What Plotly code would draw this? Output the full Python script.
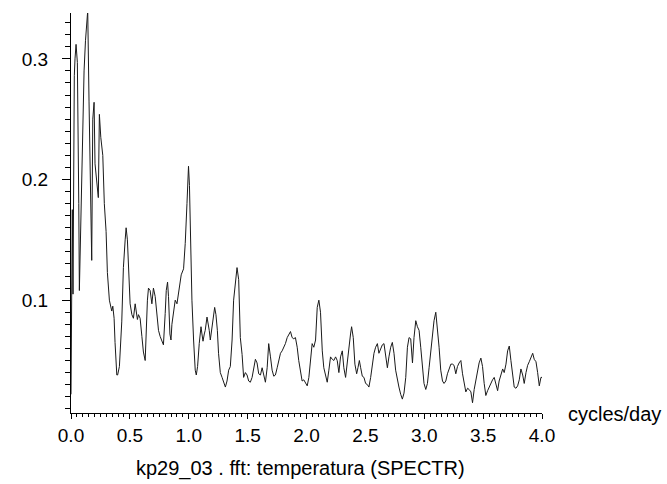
import plotly.graph_objects as go

# frequency (cycles/day) and spectral amplitude
freq = [0.000, 0.006, 0.011, 0.017, 0.023, 0.028, 0.034, 0.043, 0.054, 0.062,
        0.066, 0.071, 0.083, 0.094, 0.100, 0.111, 0.123, 0.134, 0.142, 0.153,
        0.168, 0.176, 0.185, 0.196, 0.204, 0.219, 0.232, 0.241, 0.253, 0.270,
        0.283, 0.298, 0.309, 0.326, 0.338, 0.346, 0.355, 0.366, 0.374, 0.383,
        0.389, 0.396, 0.411, 0.431, 0.445, 0.460, 0.468, 0.479, 0.488, 0.502,
        0.517, 0.530, 0.545, 0.553, 0.564, 0.573, 0.587, 0.602, 0.615, 0.630,
        0.638, 0.649, 0.658, 0.672, 0.687, 0.700, 0.715, 0.729, 0.743, 0.757,
        0.772, 0.785, 0.800, 0.809, 0.820, 0.828, 0.840, 0.849, 0.857, 0.871,
        0.885, 0.900, 0.908, 0.922, 0.936, 0.956, 0.970, 0.985, 0.998, 1.006,
        1.015, 1.027, 1.041, 1.055, 1.064, 1.075, 1.089, 1.104, 1.112, 1.121,
        1.132, 1.140, 1.155, 1.163, 1.174, 1.183, 1.197, 1.211, 1.220, 1.231,
        1.243, 1.253, 1.268, 1.283, 1.296, 1.311, 1.325, 1.339, 1.353, 1.368,
        1.381, 1.396, 1.410, 1.424, 1.438, 1.453, 1.466, 1.481, 1.495, 1.509,
        1.523, 1.538, 1.551, 1.566, 1.580, 1.594, 1.609, 1.623, 1.637, 1.651,
        1.666, 1.679, 1.694, 1.708, 1.722, 1.736, 1.751, 1.764, 1.779, 1.793,
        1.807, 1.821, 1.836, 1.849, 1.864, 1.878, 1.892, 1.906, 1.921, 1.934,
        1.949, 1.963, 1.977, 1.991, 2.006, 2.020, 2.034, 2.048, 2.062, 2.077,
        2.091, 2.105, 2.119, 2.134, 2.147, 2.162, 2.176, 2.190, 2.204, 2.219,
        2.232, 2.247, 2.261, 2.275, 2.289, 2.304, 2.317, 2.332, 2.346, 2.360,
        2.374, 2.383, 2.397, 2.411, 2.426, 2.437, 2.449, 2.460, 2.474, 2.488,
        2.502, 2.517, 2.530, 2.545, 2.559, 2.573, 2.587, 2.602, 2.615, 2.630,
        2.644, 2.658, 2.672, 2.687, 2.700, 2.715, 2.729, 2.743, 2.757, 2.772,
        2.785, 2.800, 2.814, 2.828, 2.843, 2.857, 2.871, 2.885, 2.900, 2.913,
        2.928, 2.942, 2.956, 2.970, 2.985, 2.998, 3.013, 3.027, 3.041, 3.055,
        3.070, 3.083, 3.098, 3.112, 3.126, 3.140, 3.155, 3.168, 3.183, 3.197,
        3.211, 3.226, 3.240, 3.253, 3.268, 3.282, 3.296, 3.311, 3.325, 3.338,
        3.353, 3.368, 3.381, 3.396, 3.410, 3.424, 3.438, 3.453, 3.466, 3.481,
        3.495, 3.509, 3.523, 3.538, 3.551, 3.566, 3.580, 3.594, 3.609, 3.623,
        3.636, 3.651, 3.666, 3.679, 3.694, 3.708, 3.722, 3.736, 3.751, 3.764,
        3.779, 3.793, 3.807, 3.821, 3.836, 3.849, 3.864, 3.878, 3.892, 3.906,
        3.921, 3.934, 3.949, 3.963, 3.977, 3.991, 4.000]

power = [0.022, 0.095, 0.175, 0.105, 0.250, 0.286, 0.300, 0.312, 0.297, 0.243,
         0.180, 0.108, 0.165, 0.210, 0.257, 0.290, 0.315, 0.330, 0.340, 0.265,
         0.195, 0.133, 0.250, 0.264, 0.213, 0.195, 0.185, 0.254, 0.235, 0.220,
         0.180, 0.157, 0.123, 0.100, 0.093, 0.091, 0.095, 0.085, 0.065, 0.046,
         0.038, 0.038, 0.045, 0.082, 0.127, 0.150, 0.160, 0.150, 0.130, 0.097,
         0.088, 0.085, 0.097, 0.092, 0.084, 0.088, 0.085, 0.070, 0.057, 0.050,
         0.080, 0.100, 0.110, 0.108, 0.097, 0.110, 0.103, 0.089, 0.075, 0.070,
         0.067, 0.063, 0.089, 0.108, 0.115, 0.103, 0.072, 0.067, 0.080, 0.090,
         0.100, 0.097, 0.103, 0.111, 0.121, 0.126, 0.147, 0.180, 0.211, 0.195,
         0.150, 0.100, 0.067, 0.042, 0.038, 0.045, 0.064, 0.078, 0.072, 0.066,
         0.072, 0.075, 0.086, 0.082, 0.075, 0.067, 0.078, 0.090, 0.094, 0.088,
         0.075, 0.056, 0.040, 0.036, 0.033, 0.028, 0.033, 0.042, 0.045, 0.067,
         0.100, 0.117, 0.127, 0.117, 0.069, 0.055, 0.036, 0.040, 0.038, 0.033,
         0.032, 0.036, 0.044, 0.051, 0.048, 0.039, 0.038, 0.044, 0.038, 0.032,
         0.044, 0.064, 0.053, 0.042, 0.037, 0.038, 0.044, 0.050, 0.056, 0.058,
         0.061, 0.064, 0.069, 0.072, 0.074, 0.069, 0.068, 0.069, 0.061, 0.050,
         0.039, 0.033, 0.034, 0.031, 0.029, 0.036, 0.050, 0.064, 0.061, 0.067,
         0.094, 0.100, 0.090, 0.058, 0.044, 0.036, 0.032, 0.042, 0.053, 0.051,
         0.050, 0.053, 0.050, 0.040, 0.053, 0.058, 0.044, 0.036, 0.050, 0.061,
         0.072, 0.078, 0.069, 0.047, 0.039, 0.044, 0.050, 0.044, 0.037, 0.036,
         0.031, 0.030, 0.028, 0.036, 0.047, 0.056, 0.061, 0.064, 0.056, 0.060,
         0.063, 0.064, 0.056, 0.044, 0.053, 0.061, 0.065, 0.056, 0.042, 0.033,
         0.028, 0.022, 0.018, 0.023, 0.036, 0.061, 0.069, 0.068, 0.048, 0.069,
         0.083, 0.078, 0.075, 0.061, 0.042, 0.031, 0.026, 0.031, 0.044, 0.058,
         0.072, 0.083, 0.090, 0.078, 0.061, 0.042, 0.033, 0.031, 0.033, 0.039,
         0.044, 0.047, 0.047, 0.046, 0.039, 0.045, 0.048, 0.050, 0.039, 0.031,
         0.024, 0.027, 0.026, 0.024, 0.015, 0.026, 0.033, 0.042, 0.048, 0.052,
         0.045, 0.031, 0.021, 0.025, 0.028, 0.031, 0.034, 0.036, 0.031, 0.025,
         0.033, 0.039, 0.043, 0.040, 0.047, 0.058, 0.062, 0.050, 0.036, 0.028,
         0.027, 0.029, 0.034, 0.043, 0.038, 0.031, 0.040, 0.046, 0.049, 0.053,
         0.056, 0.051, 0.049, 0.040, 0.029, 0.036, 0.036]

x_tick_vals = [0.0, 0.5, 1.0, 1.5, 2.0, 2.5, 3.0, 3.5, 4.0]
x_tick_text = ["0.0", "0.5", "1.0", "1.5", "2.0", "2.5", "3.0", "3.5", "4.0"]
y_tick_vals = [0.1, 0.2, 0.3]
y_tick_text = ["0.1", "0.2", "0.3"]

x_label = "cycles/day"
title_text = "kp29_03 . fft: temperatura (SPECTR)"

FONT = "Liberation Sans, Arial, sans-serif"

fig = go.Figure()
fig.add_trace(go.Scatter(
    x=freq, y=power, mode="lines",
    line=dict(color="#1a1a1a", width=1),
    hoverinfo="skip", showlegend=False,
))

fig.update_layout(
    width=667, height=484,
    margin=dict(l=71, r=125, t=13, b=71, pad=0),
    paper_bgcolor="white", plot_bgcolor="white",
    font=dict(family=FONT, color="black"),
    xaxis=dict(
        range=[0, 4.0], showgrid=False, zeroline=False,
        showline=True, linecolor="black", linewidth=1,
        ticks="outside", ticklen=5, tickwidth=1, tickcolor="black",
        tickvals=x_tick_vals, ticktext=x_tick_text,
        tickfont=dict(size=19, family=FONT, color="black"),
        minor=dict(dtick=0.05, tick0=0, ticks="outside", ticklen=3,
                   tickwidth=1, tickcolor="black", showgrid=False),
    ),
    yaxis=dict(
        range=[0.0065, 0.338], showgrid=False, zeroline=False,
        showline=True, linecolor="black", linewidth=1,
        ticks="outside", ticklen=8, tickwidth=1, tickcolor="black",
        tickvals=y_tick_vals, ticktext=y_tick_text,
        ticklabelstandoff=10,
        tickfont=dict(size=19, family=FONT, color="black"),
        minor=dict(dtick=0.01, tick0=0, ticks="outside", ticklen=5,
                   tickwidth=1, tickcolor="black", showgrid=False),
    ),
    annotations=[
        dict(text=x_label, xref="paper", yref="paper", x=1.052, y=-0.002,
             xanchor="left", yanchor="middle", showarrow=False,
             font=dict(size=20, family=FONT, color="black")),
        dict(text=title_text, xref="paper", yref="paper", x=0.488, y=-0.138,
             xanchor="center", yanchor="middle", showarrow=False,
             font=dict(size=20, family=FONT, color="black")),
    ],
)

fig.write_html("out.html")
